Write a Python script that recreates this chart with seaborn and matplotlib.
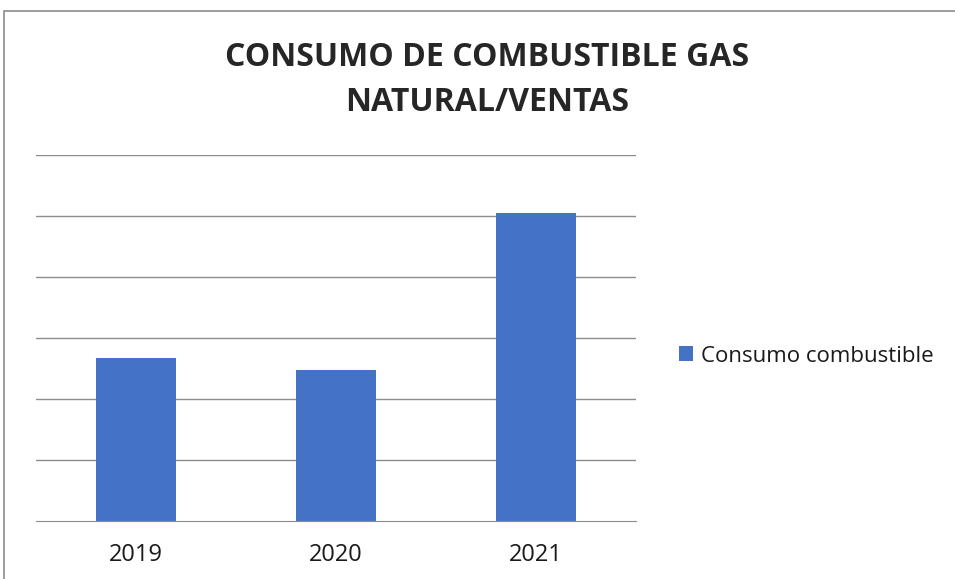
import matplotlib.pyplot as plt
from matplotlib.patches import Rectangle
import seaborn as sns
import pandas as pd

years = ["2019", "2020", "2021"]
consumo = [2.67, 2.48, 5.05]
serie = "Consumo combustible"
titulo = "CONSUMO DE COMBUSTIBLE GAS\nNATURAL/VENTAS"

df = pd.DataFrame({"Año": years, "Consumo": consumo, "Serie": [serie] * len(years)})

sns.set_style("white")
plt.rcParams["font.family"] = ["Open Sans", "DejaVu Sans"]

fig = plt.figure(figsize=(9.55, 5.79), dpi=100)
ax = fig.add_axes([36 / 955, 1 - 521 / 579, 600 / 955, 366 / 579])

sns.barplot(data=df, x="Año", y="Consumo", hue="Serie", palette=["#4472C4"],
            width=0.4, saturation=1, ax=ax, legend=True, linewidth=0)

ax.set_ylim(0, 6)
ax.set_xlim(-0.5, 2.5)
ax.set_yticks([1, 2, 3, 4, 5, 6])
ax.set_yticklabels([])
ax.tick_params(axis="y", length=0)
ax.yaxis.grid(True, color="#8c8c8c", linewidth=1)
ax.set_axisbelow(True)
for s in ["top", "right", "left"]:
    ax.spines[s].set_visible(False)
ax.spines["bottom"].set_color("#8c8c8c")
ax.set_xlabel("")
ax.set_ylabel("")

# category boundary ticks
ax.set_xticks([-0.5, 0.5, 1.5, 2.5], minor=True)
ax.tick_params(axis="x", which="minor", length=11, color="#8c8c8c", width=1)
ax.tick_params(axis="x", which="major", length=0, labelsize=17, pad=16, labelcolor="#1a1a1a")

leg = ax.legend(loc="center left", bbox_to_anchor=(679 / 955, 1 - 356 / 579),
                bbox_transform=fig.transFigure, frameon=False, fontsize=16,
                borderpad=0, borderaxespad=0,
                handlelength=0.65, handleheight=0.65, handletextpad=0.35)
for t in leg.get_texts():
    t.set_color("#1a1a1a")

fig.text(487 / 955, 1 - 80 / 579, titulo, ha="center", va="center", fontsize=23,
         fontweight="bold", linespacing=1.45)

fig.patches.append(Rectangle((4 / 955, -0.1), 1.2, 1.1 - 11 / 579,
                             transform=fig.transFigure, fill=False,
                             edgecolor="#8c8c8c", linewidth=1.2))

fig.savefig("out.png", dpi=100)
